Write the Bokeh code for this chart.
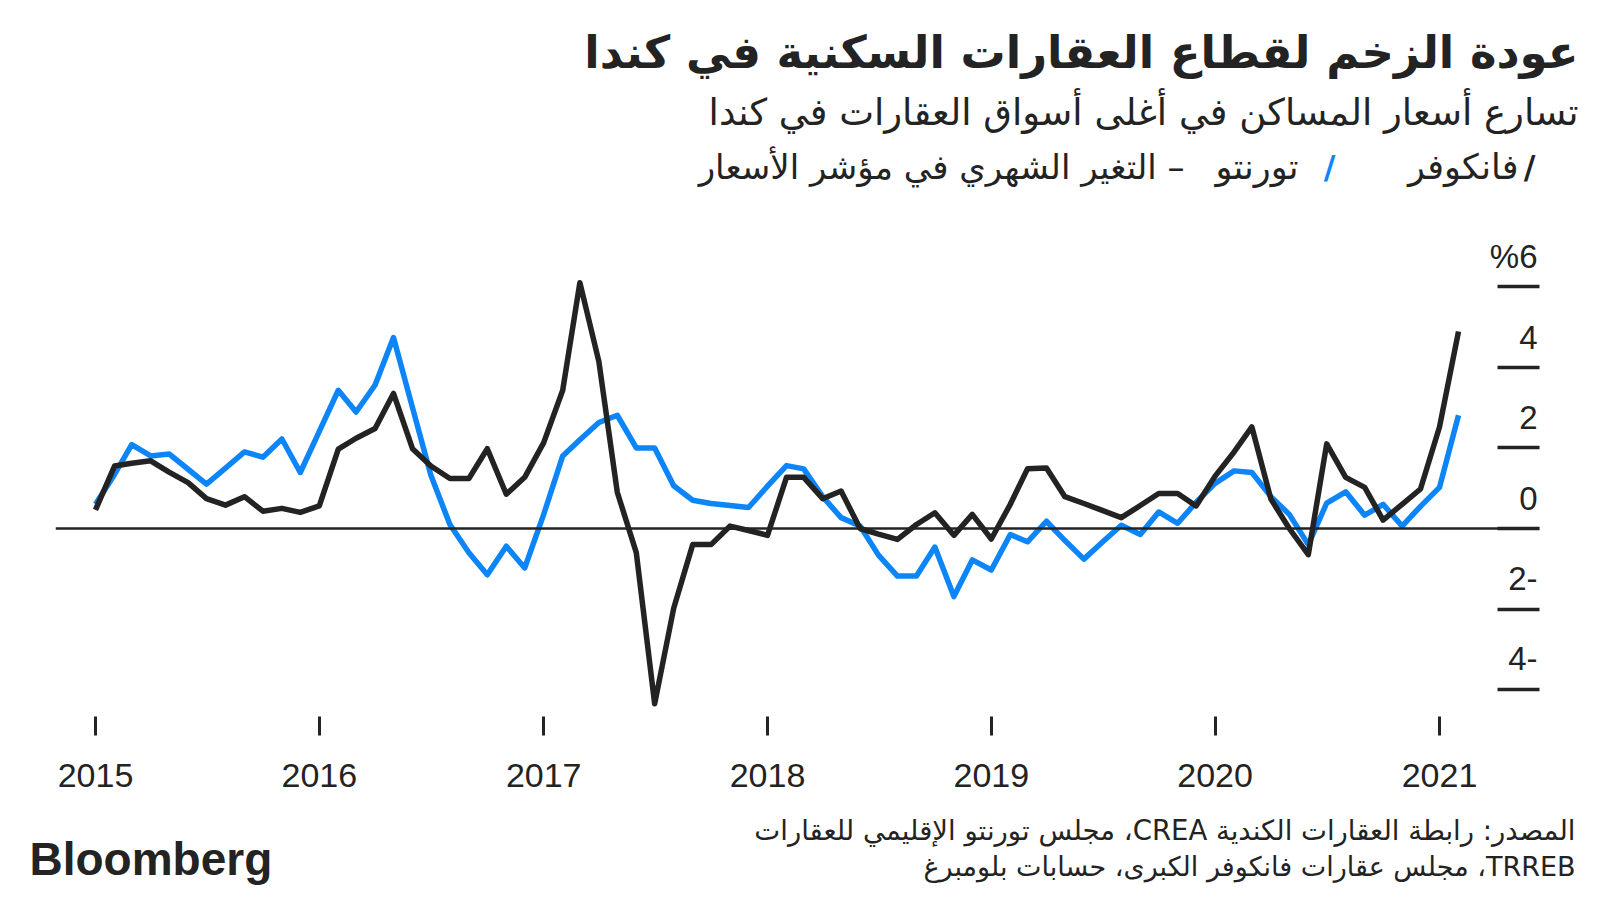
import pandas as pd
from bokeh.plotting import figure
from bokeh.layouts import column
from bokeh.models import (Range1d, Span, Label, FixedTicker, DatetimeTickFormatter,
                          LinearAxis)
from bokeh.embed import file_html
from bokeh.resources import INLINE

# ---------------- data ----------------
months = pd.date_range("2015-01-01", "2021-02-01", freq="MS")

vancouver = [0.46, 1.55, 1.62, 1.68, 1.40, 1.14, 0.74, 0.58, 0.79, 0.43, 0.50, 0.40,
             0.56, 1.97, 2.24, 2.48, 3.35, 1.98, 1.55, 1.24, 1.24, 1.98, 0.85, 1.27,
             2.13, 3.43, 6.10, 4.14, 0.90, -0.60, -4.35, -1.98, -0.40, -0.40, 0.06, -0.05,
             -0.17, 1.27, 1.27, 0.74, 0.93, 0.00, -0.14, -0.27, 0.10, 0.39, -0.17, 0.35,
             -0.26, 0.60, 1.48, 1.50, 0.79, 0.62, 0.45, 0.27, 0.57, 0.87, 0.87, 0.56,
             1.30, 1.90, 2.52, 0.73, 0.00, -0.65, 2.10, 1.27, 1.02, 0.21, 0.60, 0.98,
             2.52, 4.89]

toronto = [0.60, 1.34, 2.08, 1.80, 1.85, 1.47, 1.10, 1.50, 1.90, 1.77, 2.22, 1.39,
           2.41, 3.43, 2.89, 3.56, 4.74, 3.00, 1.32, 0.10, -0.60, -1.15, -0.44, -0.98,
           0.35, 1.80, 2.20, 2.63, 2.81, 2.00, 2.00, 1.06, 0.70, 0.62, 0.57, 0.52,
           1.05, 1.56, 1.48, 0.79, 0.27, 0.06, -0.66, -1.18, -1.18, -0.46, -1.69, -0.78,
           -1.03, -0.15, -0.33, 0.18, -0.30, -0.76, -0.34, 0.08, -0.15, 0.41, 0.13, 0.65,
           1.12, 1.43, 1.39, 0.79, 0.35, -0.40, 0.63, 0.91, 0.33, 0.60, 0.06, 0.55,
           1.02, 2.81]

year_ticks = ["2015-01-01", "2016-01-01", "2017-01-01", "2018-01-01",
              "2019-01-01", "2020-01-01", "2021-01-01"]
y_ticks = [-4, -2, 0, 2, 4, 6]
y_tick_labels = ["4-", "2-", "0", "2", "4", "%6"]

title_text = "عودة الزخم لقطاع العقارات السكنية في كندا"
subtitle_text = "تسارع أسعار المساكن في أغلى أسواق العقارات في كندا"
legend_van = "فانكوفر"
legend_tor = "تورنتو"
legend_desc = "– التغير الشهري في مؤشر الأسعار"
source_1 = "المصدر: رابطة العقارات الكندية CREA، مجلس تورنتو الإقليمي للعقارات"
source_2 = "TRREB، مجلس عقارات فانكوفر الكبرى، حسابات بلومبرغ"
logo_text = "Bloomberg"

# ---------------- style ----------------
BLACK = "#232323"
BLUE = "#0C85F8"
AR_FONT = "DejaVu Sans"
LAT_FONT = "Liberation Sans"
RLE, PDF = "\u202b", "\u202c"

W = 1600
H_HEAD, H_MAIN, H_FOOT = 200, 600, 100
TOP_MAIN = H_HEAD                       # page y of main figure top
FL, FR = 55, 1539                       # frame edges (page x)
FB_PAGE = 716                           # frame bottom (page y)
FB = FB_PAGE - TOP_MAIN                 # frame bottom inside main figure
FW = FR - FL

zero_y = 528.0 - TOP_MAIN
px_per_pct = 40.3
y0 = -(FB - zero_y) / px_per_pct
y1 = zero_y / px_per_pct

t2015 = pd.Timestamp("2015-01-01")
t2021 = pd.Timestamp("2021-01-01")
x2015, x2021 = 95.0, 1439.0
days_per_px = (t2021 - t2015).days / (x2021 - x2015)
x_start = t2015 - pd.Timedelta(days=(x2015 - FL) * days_per_px)
x_end = t2015 + pd.Timedelta(days=(FR - x2015) * days_per_px)


def bare(height):
    fig = figure(width=W, height=height, x_range=Range1d(0, W), y_range=Range1d(0, height),
                 output_backend="svg", toolbar_location=None,
                 x_axis_location=None, y_axis_location=None,
                 min_border_left=0, min_border_right=0, min_border_top=0, min_border_bottom=0)
    fig.frame_align = False
    fig.outline_line_color = None
    fig.grid.visible = False
    fig.border_fill_color = "white"
    return fig


p = figure(width=W, height=H_MAIN, x_axis_type="datetime", y_axis_location=None,
           x_range=Range1d(x_start, x_end), y_range=Range1d(y0, y1),
           output_backend="svg", toolbar_location=None,
           min_border_left=FL, min_border_right=W - FR,
           min_border_top=0, min_border_bottom=H_MAIN - FB)
p.frame_align = False
p.outline_line_color = None
p.grid.visible = False
p.background_fill_color = "white"
p.border_fill_color = "white"

# x axis
xa = p.xaxis[0]
xa.ticker = FixedTicker(ticks=[pd.Timestamp(t).value / 1e6 for t in year_ticks])
xa.formatter = DatetimeTickFormatter(years="%Y", months="%Y", days="%Y")
xa.axis_line_color = None
xa.major_tick_in = 0
xa.major_tick_out = 19
xa.major_tick_line_width = 3
xa.major_tick_line_color = BLACK
xa.minor_tick_line_color = None
xa.major_label_standoff = 28
xa.major_label_text_font = LAT_FONT
xa.major_label_text_font_size = "34px"
xa.major_label_text_color = BLACK

# right axis: tick marks only (labels are drawn above the marks below)
ya = LinearAxis(ticker=FixedTicker(ticks=y_ticks))
ya.axis_line_color = None
ya.major_tick_in = 42
ya.major_tick_out = 0
ya.major_tick_line_width = 3.5
ya.major_tick_line_color = BLACK
ya.minor_tick_line_color = None
ya.major_label_overrides = {t: "" for t in y_ticks}
ya.major_label_standoff = 0
p.add_layout(ya, "right")

p.add_layout(Span(location=0, dimension="width", line_color=BLACK, line_width=2.5))

p.line(months, toronto, line_color=BLUE, line_width=5.5, line_join="round")
p.line(months, vancouver, line_color=BLACK, line_width=5.5, line_join="round")

for v, lab_txt in zip(y_ticks, y_tick_labels):
    p.add_layout(Label(x=FW - 2, y=v, x_units="screen", y_units="data",
                       y_offset=31 if v < 0 else 30,
                       text=lab_txt, text_align="right", text_baseline="alphabetic",
                       text_font=LAT_FONT, text_font_size="33px", text_color=BLACK))


def lab(fig, sx, sy, text, size, font=AR_FONT, align="right", color=BLACK, style="normal"):
    fig.add_layout(Label(x=sx, y=sy, x_units="screen", y_units="screen",
                         text=text, text_align=align, text_baseline="middle",
                         text_font=font, text_font_size=size, text_color=color,
                         text_font_style=style))


# header
hd = bare(H_HEAD)


def head(X, Y, text, size, **kw):
    lab(hd, X, H_HEAD - Y, text, size, **kw)


head(1578, 52, title_text, "45px", style="bold")
head(1578, 112, subtitle_text, "37px")
head(1529, 166, "/", "32px", align="center", style="bold")
head(1518, 166, legend_van, "35px")
head(1329, 166, "/", "32px", align="center", color=BLUE, style="bold")
head(1298, 166, legend_tor, "35px")
head(1184, 166, RLE + legend_desc + PDF, "34px")

# footer
ft = bare(H_FOOT)


def foot(X, Y, text, size, **kw):
    lab(ft, X, H_HEAD + H_MAIN + H_FOOT - Y, text, size, **kw)


foot(1575, 829, RLE + source_1 + PDF, "27.5px")
foot(1575, 866, RLE + source_2 + PDF, "27px")
foot(29, 858, logo_text, "46px", font=LAT_FONT, align="left", style="bold")

open("out.html", "w").write(file_html(column(hd, p, ft, spacing=0), INLINE))
